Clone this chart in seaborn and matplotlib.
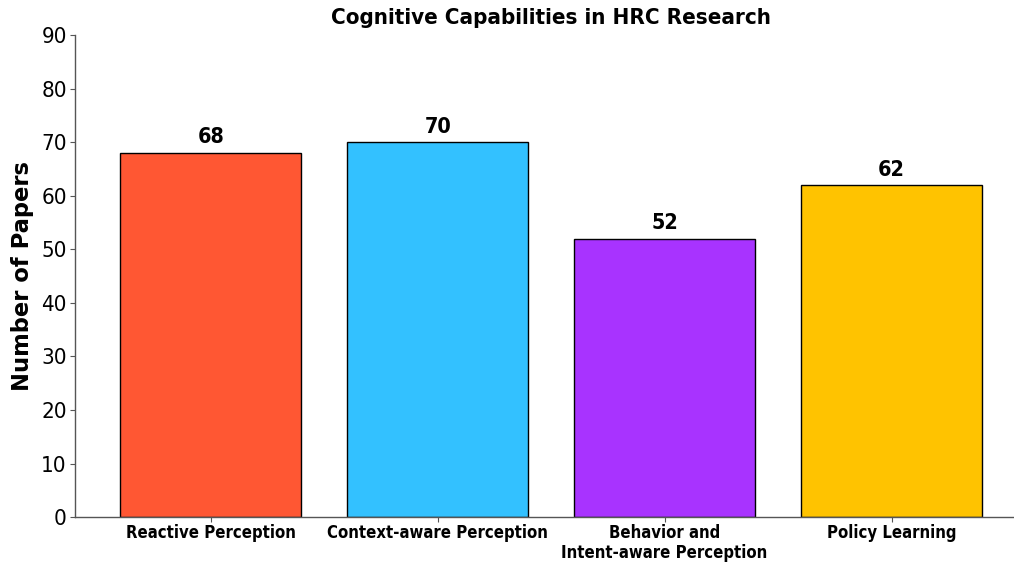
import matplotlib
matplotlib.use("Agg")
import matplotlib.pyplot as plt
import seaborn as sns
import pandas as pd

categories = [
    "Reactive Perception",
    "Context-aware Perception",
    "Behavior and\nIntent-aware Perception",
    "Policy Learning",
]
paper_counts = [68, 70, 52, 62]
bar_colors = ["#FF5733", "#33C1FF", "#A833FF", "#FFC300"]
y_ticks = [0, 10, 20, 30, 40, 50, 60, 70, 80, 90]

sns.set_style("white")
plt.rcParams["font.family"] = ["DejaVu Sans"]
plt.rcParams["font.stretch"] = "condensed"
plt.rcParams["text.color"] = "black"
plt.rcParams["axes.labelcolor"] = "black"
plt.rcParams["xtick.color"] = "black"
plt.rcParams["ytick.color"] = "black"

df = pd.DataFrame({"capability": categories, "papers": paper_counts})

fig = plt.figure(figsize=(10.14, 5.64), dpi=100)
ax = fig.add_axes([0.0735, 0.083, 0.94, 0.855])

sns.barplot(
    data=df, x="capability", y="papers", hue="capability",
    palette=bar_colors, saturation=1, width=0.8,
    edgecolor="black", linewidth=1, legend=False, ax=ax,
)

for patch, value in zip(ax.patches, paper_counts):
    ax.text(patch.get_x() + patch.get_width() / 2, value + 1, str(value),
            ha="center", va="bottom", fontsize=15.5, fontweight="bold")

ax.set_xlim(-0.6, 3.6)
ax.set_ylim(0, 90)
ax.set_yticks(y_ticks)
ax.tick_params(axis="y", labelsize=16, length=3.5, pad=2, color="#555555", left=True)
ax.tick_params(axis="x", length=3.5, pad=1.5, color="#555555", bottom=True)
for lbl in ax.get_xticklabels():
    lbl.set_fontweight("bold")
    lbl.set_fontsize(12)
    lbl.set_linespacing(1.15)

ax.set_xlabel("")
ax.set_ylabel("Number of Papers", fontsize=16.3, fontweight="bold",
              fontstretch="normal", labelpad=5.5)
ax.set_title("Cognitive Capabilities in HRC Research", fontsize=16,
             fontweight="bold", pad=8)

sns.despine(ax=ax)
for side in ("left", "bottom"):
    ax.spines[side].set_color("#555555")
    ax.spines[side].set_linewidth(1)

fig.savefig("out.png", dpi=100)
